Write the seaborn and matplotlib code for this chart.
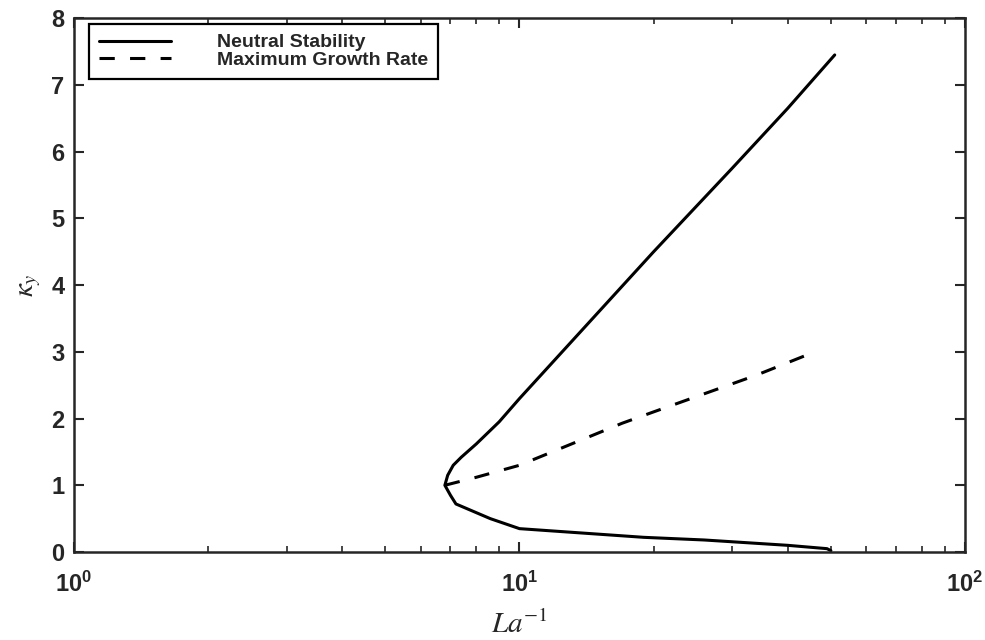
import matplotlib
matplotlib.use("Agg")
import matplotlib.pyplot as plt
import seaborn as sns
import pandas as pd
from matplotlib.ticker import LogLocator, NullFormatter

# Neutral stability curve, ordered along the curve (lower branch -> nose -> upper branch)
neutral_la_inv = [50.0, 49.0, 40.0, 26.0, 19.0, 10.0, 8.6, 7.2, 7.0, 6.8, 6.9, 7.1, 7.4, 8.0, 9.0, 10.0, 20.0, 30.0, 40.0, 51.0]
neutral_kappa = [0.02, 0.05, 0.10, 0.18, 0.22, 0.35, 0.50, 0.72, 0.85, 1.00, 1.15, 1.30, 1.42, 1.62, 1.95, 2.30, 4.50, 5.75, 6.65, 7.45]

# Wavenumber of maximum growth rate
maxgrowth_la_inv = [6.8, 8.0, 10.0, 17.0, 20.0, 34.0, 46.0]
maxgrowth_kappa = [1.00, 1.12, 1.30, 1.93, 2.10, 2.65, 3.00]

legend_labels = ["Neutral Stability", "Maximum Growth Rate"]

sns.set_style("ticks")
plt.rcParams["font.family"] = ["Liberation Sans", "DejaVu Sans"]
plt.rcParams["mathtext.fontset"] = "stix"

df_neutral = pd.DataFrame({"x": neutral_la_inv, "y": neutral_kappa})
df_growth = pd.DataFrame({"x": maxgrowth_la_inv, "y": maxgrowth_kappa})

fig = plt.figure(figsize=(9.85, 6.4), dpi=100)
ax = fig.add_axes([0.0751, 0.1375, 0.9046, 0.834])

sns.lineplot(data=df_neutral, x="x", y="y", sort=False, estimator=None, ax=ax,
             color="black", linewidth=2.2, label=legend_labels[0])
sns.lineplot(data=df_growth, x="x", y="y", sort=False, estimator=None, ax=ax,
             color="black", linewidth=2.2, linestyle=(0, (5, 5)), label=legend_labels[1])

ax.set_xscale("log")
ax.set_xlim(1, 100)
ax.set_ylim(0, 8)
ax.set_yticks(range(0, 9))
ax.xaxis.set_major_locator(LogLocator(base=10))
ax.xaxis.set_minor_locator(LogLocator(base=10, subs=range(2, 10)))
ax.xaxis.set_minor_formatter(NullFormatter())

ax.tick_params(axis="both", which="both", direction="in", top=True, right=True)
ax.tick_params(axis="both", which="major", length=7, width=1.5, labelsize=17)
ax.tick_params(axis="y", which="major", pad=7)
ax.tick_params(axis="x", which="major", pad=14)
ax.tick_params(axis="x", which="minor", length=4, width=1.2)
for lbl in ax.get_xticklabels() + ax.get_yticklabels():
    lbl.set_fontweight("bold")
for side in ax.spines.values():
    side.set_linewidth(1.8)
    side.set_visible(True)

ax.set_xlabel(r"$La^{-1}$", fontsize=21, labelpad=10)
ax.set_ylabel(r"$\kappa_y$", fontsize=21, labelpad=6)

leg = ax.legend(loc="upper left", bbox_to_anchor=(0.017, 0.989), frameon=True, fancybox=False,
                edgecolor="black", framealpha=1, borderaxespad=0, handlelength=3.7,
                handletextpad=2.4, borderpad=0.5, labelspacing=0.0,
                prop={"family": "Liberation Sans", "weight": "bold", "size": 14})
leg.get_frame().set_linewidth(1.6)

fig.savefig("out.png", dpi=100, facecolor="white")
